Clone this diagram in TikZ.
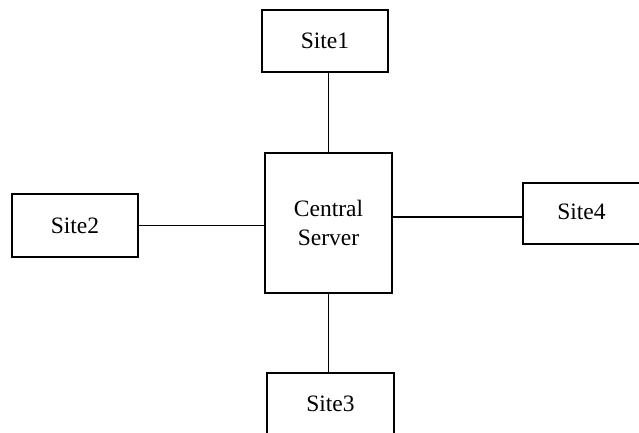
\documentclass[tikz,border=0pt]{standalone}
\usepackage{fontspec}
\setmainfont{Liberation Serif}
\begin{document}
\begin{tikzpicture}[x=1pt,y=1pt,
  box/.style={draw, line width=1.4pt, inner sep=0pt, font=\fontsize{23.5}{29}\selectfont, align=center},
  link/.style={line width=1.4pt}]
\useasboundingbox (0,0) rectangle (639,-433);
\node[box, minimum width=126pt, minimum height=62pt] (s1) at (325,-41) {Site1};
\node[box, minimum width=127pt, minimum height=140pt] (c) at (328.5,-223) {Central\\Server};
\node[box, minimum width=126pt, minimum height=63pt] (s2) at (75,-225.5) {Site2};
\node[box, minimum width=117pt, minimum height=61pt, text depth=0pt] (s4) at (581.5,-213.5) {\raisebox{3pt}{Site4}};
\node[box, minimum width=127pt, minimum height=62pt] (s3) at (330.5,-404) {Site3};
\draw[link] (c.north) -- (c.north |- s1.south);
\draw[link] (s2.east) -- (s2.east -| c.west);
\draw[link] ([yshift=-3.5pt]s4.west) -- ([yshift=-3.5pt]s4.west -| c.east);
\draw[link] (c.south) -- (c.south |- s3.north);
\end{tikzpicture}
\end{document}
